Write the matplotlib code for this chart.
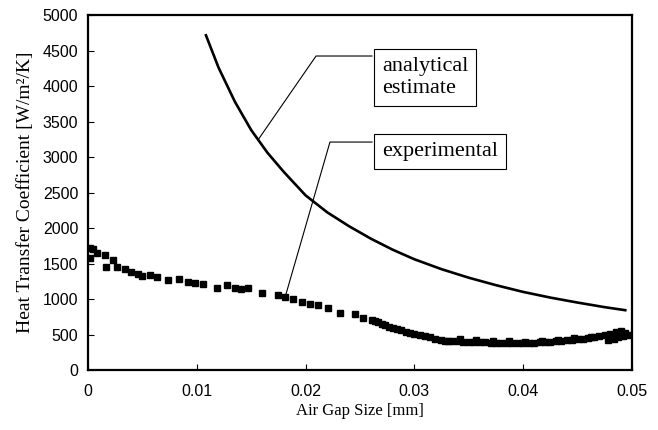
import matplotlib
matplotlib.use("Agg")
import matplotlib.pyplot as plt

# Analytical estimate (line)
ana_gap = [0.0108, 0.0120, 0.0135, 0.0150, 0.0165, 0.0180, 0.0200, 0.0220, 0.0240,
           0.0260, 0.0280, 0.0300, 0.0325, 0.0350, 0.0375, 0.0400, 0.0425, 0.0450,
           0.0475, 0.0495]
ana_h = [4732, 4260, 3780, 3380, 3060, 2790, 2460, 2220, 2025,
         1850, 1695, 1560, 1420, 1300, 1195, 1100, 1020, 950,
         885, 840]

# Experimental (square markers)
exp_gap = [0.0002, 0.0002, 0.0005, 0.0008, 0.0016, 0.0017, 0.0023, 0.0027, 0.0034,
           0.0040, 0.0046, 0.0050, 0.0057, 0.0063, 0.0074, 0.0084, 0.0092, 0.0098,
           0.0106, 0.0119, 0.0128, 0.0135, 0.0141, 0.0147, 0.0160, 0.0175, 0.0181,
           0.0188, 0.0197, 0.0204, 0.0211, 0.0221, 0.0232, 0.0245, 0.0253, 0.0261,
           0.0264, 0.0267, 0.0270, 0.0273, 0.0277, 0.0280, 0.0284, 0.0288, 0.0292,
           0.0296, 0.0300, 0.0305, 0.0310, 0.0314, 0.0319, 0.0324, 0.0328, 0.0331,
           0.0335, 0.0340, 0.0345, 0.0350, 0.0355, 0.0360, 0.0365, 0.0370, 0.0375,
           0.0380, 0.0385, 0.0390, 0.0395, 0.0400, 0.0405, 0.0410, 0.0415, 0.0420,
           0.0425, 0.0430, 0.0435, 0.0440, 0.0445, 0.0450, 0.0455, 0.0460, 0.0465,
           0.0470, 0.0475, 0.0478, 0.0480, 0.0483, 0.0485, 0.0487, 0.0490, 0.0492,
           0.0494, 0.0496,
           0.0342, 0.0357, 0.0372, 0.0387, 0.0402, 0.0417, 0.0432, 0.0447, 0.0462]
exp_h = [1718, 1577, 1700, 1648, 1620, 1450, 1549, 1450, 1422,
         1380, 1352, 1324, 1338, 1310, 1268, 1282, 1239, 1225,
         1211, 1155, 1197, 1155, 1140, 1155, 1084, 1056, 1028,
         1000, 958, 930, 915, 873, 803, 789, 732, 704,
         690, 676, 655, 634, 610, 592, 575, 563, 540,
         521, 505, 493, 478, 465, 440, 423, 410, 415,
         412, 405, 400, 398, 392, 390, 388, 385, 383,
         380, 378, 377, 378, 380, 382, 385, 388, 392,
         398, 405, 410, 418, 425, 432, 440, 448, 460,
         475, 490, 420, 510, 440, 530, 470, 545, 480,
         520, 500,
         430, 420, 410, 405, 400, 405, 420, 445, 470]

x_ticks = [0, 0.01, 0.02, 0.03, 0.04, 0.05]
x_tick_labels = ["0", "0.01", "0.02", "0.03", "0.04", "0.05"]
y_ticks = [0, 500, 1000, 1500, 2000, 2500, 3000, 3500, 4000, 4500, 5000]

fig = plt.figure(figsize=(6.58, 4.30), dpi=100)
ax = fig.add_axes([0.1337, 0.1395, 0.8268, 0.8255])

ax.plot(ana_gap, ana_h, color="black", lw=1.9, solid_capstyle="butt")
ax.plot(exp_gap, exp_h, ls="none", marker="s", ms=4.6, color="black", mec="black")

ax.set_xlim(0, 0.05)
ax.set_ylim(0, 5000)
ax.set_xticks(x_ticks)
ax.set_xticklabels(x_tick_labels)
ax.set_yticks(y_ticks)

for s in ax.spines.values():
    s.set_linewidth(1.6)
ax.tick_params(direction="in", length=4, width=0.8, top=False, right=False,
               labelsize=11.5)
ax.tick_params(axis="x", pad=10)
ax.tick_params(axis="y", pad=7)
for lbl in ax.get_xticklabels() + ax.get_yticklabels():
    lbl.set_fontfamily("Liberation Sans")

ax.set_xlabel("Air Gap Size [mm]", family="Liberation Serif", fontsize=12, labelpad=3)
ax.set_ylabel("Heat Transfer Coefficient [W/m²/K]", family="Liberation Serif",
              fontsize=14, labelpad=6)

# Leader lines
ax.plot([0.01562, 0.02096, 0.0261], [3239, 4423, 4423], color="black", lw=0.8)
ax.plot([0.0182, 0.02224, 0.0261], [1070, 3211, 3211], color="black", lw=0.8)

box = dict(boxstyle="square,pad=0.35", fc="white", ec="black", lw=0.8)
ax.text(0.02700, 4120, "analytical\nestimate", family="Liberation Serif", fontsize=16,
        va="center", ha="left", bbox=box, linespacing=1.2)
ax.text(0.02700, 3077, "experimental", family="Liberation Serif", fontsize=16,
        va="center", ha="left", bbox=box)

fig.savefig("out.png", dpi=100)
